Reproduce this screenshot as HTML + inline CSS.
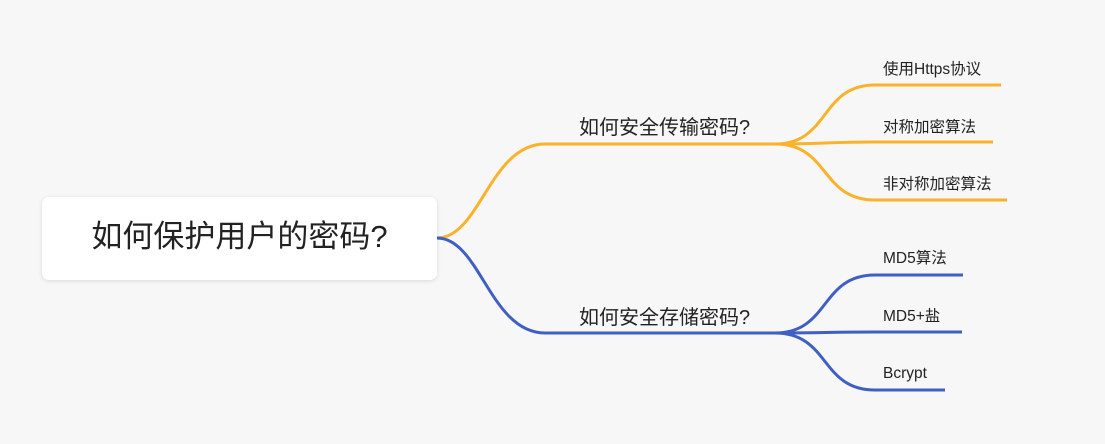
<!DOCTYPE html>
<html><head><meta charset="utf-8"><style>
html,body{margin:0;padding:0;}
body{width:1105px;height:444px;background:#f7f7f7;position:relative;overflow:hidden;font-family:"Liberation Sans","Noto Sans CJK SC",sans-serif;color:#222;}
.box{position:absolute;left:42px;top:197px;width:395px;height:83px;background:#fff;border-radius:7px;box-shadow:0 1px 4px rgba(0,0,0,0.12);}
.box span{position:absolute;left:0;right:0;top:20px;text-align:center;font-size:31px;line-height:40px;}
.t{position:absolute;white-space:nowrap;}
.m{font-size:20px;left:579px;line-height:24px;}
.c{font-size:15.5px;left:883px;line-height:20px;}
</style></head><body>
<svg width="1105" height="444" style="position:absolute;left:0;top:0" fill="none" stroke-width="3" stroke-linecap="butt">
<g stroke="#fbb22b">
<path d="M437 238 C480 238 490 144 545 144 L775 144"/>
<path d="M775 144 C830 144 820 85 875 85 L1001 85"/>
<path d="M775 144 C820 144 830 142 875 142 L993 142"/>
<path d="M775 144 C830 144 820 200 875 200 L1007 200"/>
</g>
<g stroke="#3f5fc4">
<path d="M437 238 C480 238 490 333 545 333 L775 333"/>
<path d="M775 333 C830 333 820 275 875 275 L963 275"/>
<path d="M775 333 C820 333 830 332 875 332 L962 332"/>
<path d="M775 333 C830 333 820 390 875 390 L945 390"/>
</g>
</svg>
<div class="box"><span>如何保护用户的密码?</span></div>
<div class="t m" style="top:116px">如何安全传输密码?</div>
<div class="t m" style="top:306px">如何安全存储密码?</div>
<div class="t c" style="top:60px">使用Https协议</div>
<div class="t c" style="top:118px">对称加密算法</div>
<div class="t c" style="top:175px">非对称加密算法</div>
<div class="t c" style="top:249px">MD5算法</div>
<div class="t c" style="top:307px">MD5+盐</div>
<div class="t c" style="top:364px">Bcrypt</div>
</body></html>
